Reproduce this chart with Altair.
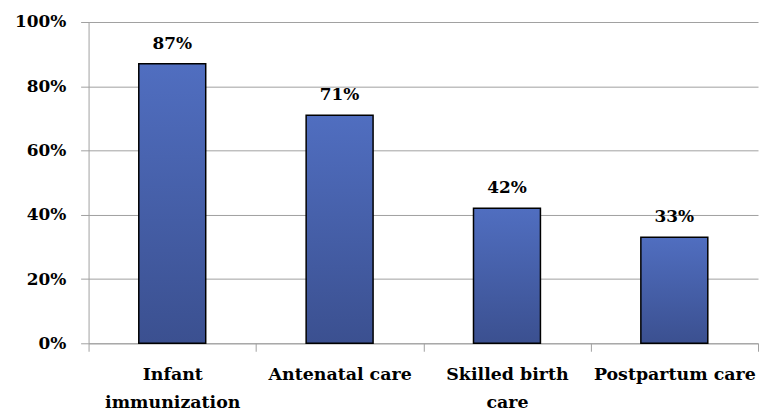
import altair as alt
import pandas as pd

categories = ["Infant immunization", "Antenatal care", "Skilled birth care", "Postpartum care"]
label_lines = [["Infant", "immunization"], ["Antenatal care"], ["Skilled birth", "care"], ["Postpartum care"]]
values = [0.87, 0.71, 0.42, 0.33]
labels = ["87%", "71%", "42%", "33%"]

df = pd.DataFrame({"cat": categories, "val": values, "lab": labels})

FONT = "DejaVu Serif"

expr_parts = []
for c, lines in zip(categories, label_lines):
    arr = "[" + ", ".join("'" + s + "'" for s in lines) + "]"
    expr_parts.append(f"datum.value == '{c}' ? {arr} : ")
label_expr = "".join(expr_parts) + "datum.value"

x = alt.X("cat:N", sort=categories, title=None,
          scale=alt.Scale(paddingInner=0, paddingOuter=0),
          axis=alt.Axis(labelAngle=0, labelExpr=label_expr,
                        labelFont=FONT, labelFontWeight="bold", labelFontSize=17.5,
                        labelColor="black", labelPadding=14, labelLineHeight=29,
                        tickBand="extent", tickSize=8, tickColor="#a0a0a0",
                        domainColor="#a0a0a0", grid=False, labelBaseline="top"))

y = alt.Y("val:Q", title=None,
          scale=alt.Scale(domain=[0, 1]),
          axis=alt.Axis(format=".0%", values=[0, 0.2, 0.4, 0.6, 0.8, 1.0],
                        labelFont=FONT, labelFontWeight="bold", labelFontSize=17,
                        labelColor="black", labelPadding=15,
                        tickSize=8, tickColor="#a0a0a0", domainColor="#a0a0a0",
                        gridColor="#a0a0a0", gridWidth=1))

bars = alt.Chart(df).mark_bar(
    stroke="black", strokeWidth=1.5, width=alt.RelativeBandSize(0.4),
    color=alt.Gradient(gradient="linear", x1=0, x2=0, y1=0, y2=1,
                       stops=[alt.GradientStop(color="#506ec0", offset=0),
                              alt.GradientStop(color="#3b5090", offset=1)])
).encode(x=x, y=y)

text = alt.Chart(df).mark_text(
    dy=-11, baseline="bottom", font=FONT, fontWeight="bold", fontSize=17, color="black"
).encode(x=alt.X("cat:N", sort=categories), y="val:Q", text="lab:N")

chart = alt.layer(bars, text).properties(
    width=673, height=323,
    padding={"left": 6, "top": 4, "right": 0, "bottom": 0}
).configure_view(stroke=None)

chart.save("out.html", embed_options={"renderer": "svg", "actions": False})
